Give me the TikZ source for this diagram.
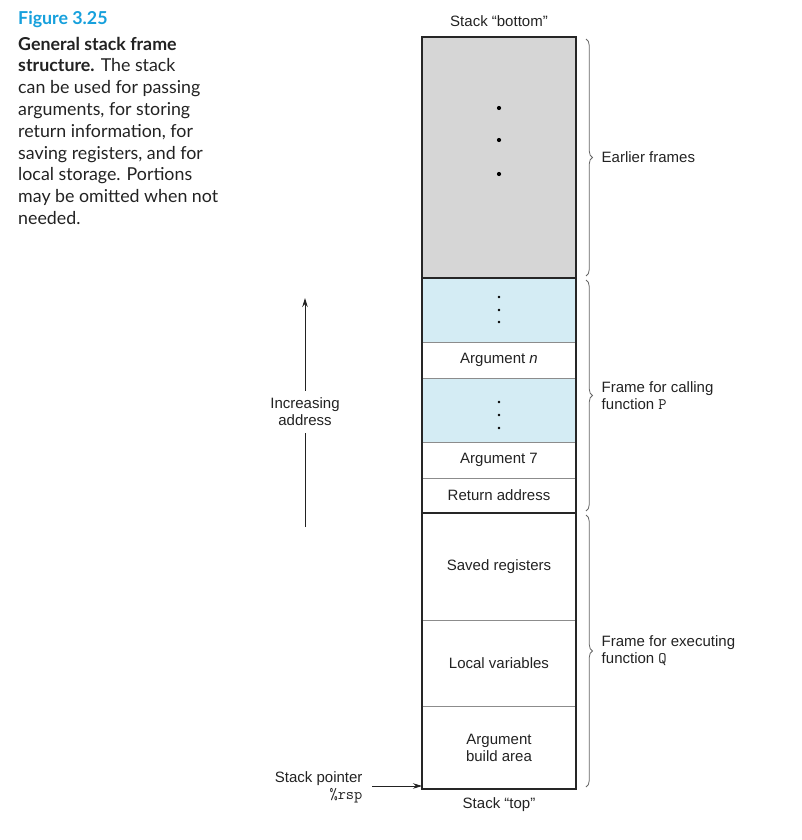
\documentclass[tikz,border=0pt]{standalone}
\usepackage{fontspec}
\setmainfont{Liberation Sans}
\newfontfamily\capfont{Lato}
\setmonofont{Latin Modern Mono}
\usetikzlibrary{decorations.pathreplacing,arrows.meta}
\definecolor{cellgray}{RGB}{214,214,214}
\definecolor{cellblue}{RGB}{212,236,244}
\definecolor{figblue}{RGB}{22,160,220}
\definecolor{txt}{RGB}{34,34,34}
\newcommand{\ttl}[1]{{\fontsize{16}{17}\selectfont\texttt{#1}}}
\begin{document}
\begin{tikzpicture}[x=1pt,y=-1pt,
  cell/.style={draw=black!45,line width=0.7pt,minimum width=154pt,inner sep=0pt,outer sep=0pt,anchor=north west,font=\fontsize{15}{17}\selectfont,text=txt,align=center},
  lbl/.style={font=\fontsize{15}{17}\selectfont,text=txt,align=left},
  brc/.style={draw=black!60,line width=0.8pt,decorate,decoration={brace,amplitude=6.5pt}},
  arr/.style={draw=txt,line width=0.9pt,-{Stealth[length=9pt,width=5.5pt]}},
  dotbig/.style={fill=black,circle,inner sep=0pt,minimum size=4.2pt},
  dotsm/.style={fill=black,circle,inner sep=0pt,minimum size=2.8pt}]
\useasboundingbox (0,0) rectangle (801,840);
% cells
\node[cell,fill=cellgray,minimum height=241pt] (g) at (422,37) {};
\node[cell,fill=cellblue,minimum height=64pt] (b1) at (422,278) {};
\node[cell,minimum height=36pt] (an) at (422,342) {Argument \textit{n}};
\node[cell,fill=cellblue,minimum height=64pt] (b2) at (422,378) {};
\node[cell,minimum height=36pt] (a7) at (422,442) {Argument 7};
\node[cell,minimum height=35pt] (ra) at (422,478) {Return address};
\node[cell,minimum height=107pt] (sr) at (422,513) {Saved registers};
\node[cell,minimum height=86pt] (lv) at (422,620) {Local variables};
\node[cell,minimum height=83pt] (ab) at (422,706) {Argument\\build area};
% thick outline
\draw[line width=1.6pt,black!85] (g.north west) rectangle (ab.south east);
\draw[line width=1.6pt,black!85] (g.south west) -- (g.south east);
\draw[line width=1.6pt,black!85] (ra.south west) -- (ra.south east);
% dots
\node[dotbig] (d1) at (499,108) {};
\node[dotbig] (d2) at (499,140) {};
\node[dotbig] (d3) at (499,174) {};
\node[dotsm] (e1) at (499,297) {};
\node[dotsm] (e2) at (499,310) {};
\node[dotsm] (e3) at (499,322) {};
\node[dotsm] (f1) at (499,402) {};
\node[dotsm] (f2) at (499,415) {};
\node[dotsm] (f3) at (499,428) {};
% top/bottom labels
\node[lbl] (bot) at (499,21) {Stack “bottom”};
\node[lbl] (top) at (499,805) {Stack “top”};
% braces
\coordinate (br1a) at (586,39);
\coordinate (br1b) at (586,276);
\coordinate (br2a) at (586,280);
\coordinate (br2b) at (586,511);
\coordinate (br3a) at (586,515);
\coordinate (br3b) at (586,787);
\draw[brc] (br1a) -- (br1b) node[midway,anchor=west,xshift=12pt,lbl] (ef) {Earlier frames};
\draw[brc] (br2a) -- (br2b) node[midway,anchor=west,xshift=12pt,lbl] (fp) {Frame for calling\\function \ttl{P}};
\draw[brc] (br3a) -- (br3b) node[midway,anchor=west,xshift=12pt,lbl] (fq) {Frame for executing\\function \ttl{Q}};
% increasing address arrow
\coordinate (ia1) at (305,527);
\coordinate (ia2) at (305,298);
\draw[arr] (ia1) -- (ia2);
\node[lbl,align=center,fill=white,inner sep=3pt,inner ysep=7pt] (inc) at (305,412) {Increasing\\address};
% stack pointer
\node[lbl,align=right,anchor=east] (sp) at (366,787) {Stack pointer\\\ttl{\%rsp}};
\coordinate (spa) at (372,786);
\draw[arr,line width=0.8pt,-{Stealth[length=9pt,width=5.5pt]}] (spa) -- ([yshift=3pt]ab.south west);
% caption
\node[anchor=north west,inner sep=0pt,align=left,font=\capfont\fontsize{17.8}{21.8}\selectfont,text=txt] (cap) at (18,11)
 {{\color{figblue}\bfseries Figure 3.25}\\[4pt]
 \textbf{General stack frame}\\
 \textbf{structure.} The stack\\
 can be used for passing\\
 arguments, for storing\\
 return information, for\\
 saving registers, and for\\
 local storage. Portions\\
 may be omitted when not\\
 needed.};
\end{tikzpicture}
\end{document}
